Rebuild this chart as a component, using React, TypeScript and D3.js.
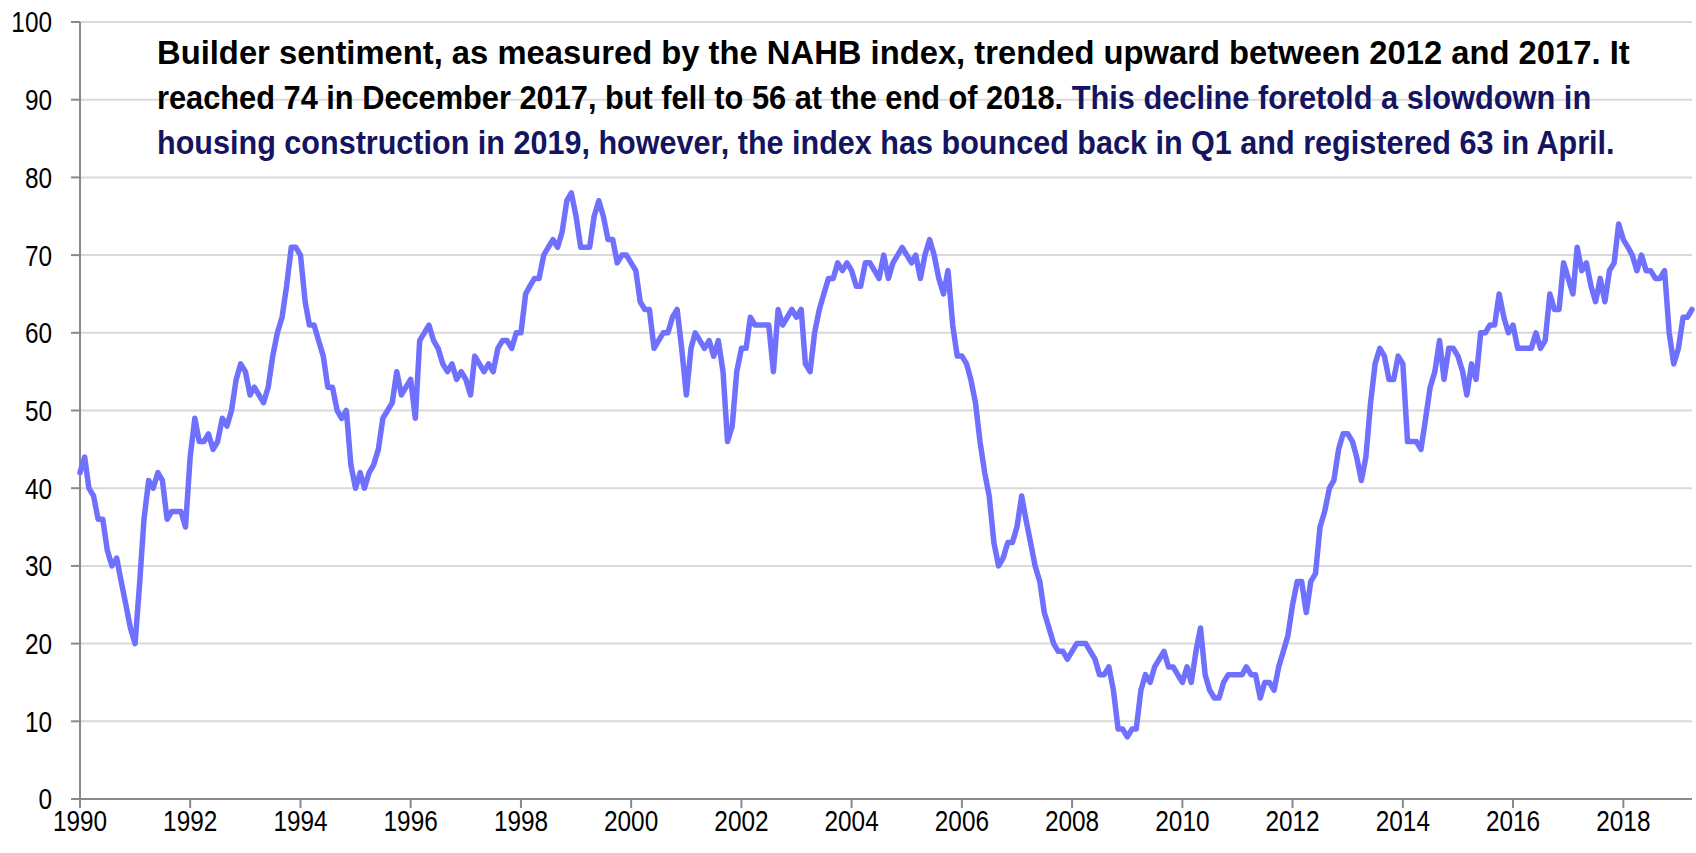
import React, { useRef, useEffect } from 'react';
import * as d3 from 'd3';

// NAHB/Wells Fargo housing market index, monthly values
const hmi1990s = [
  42, 44, 40, 39, 36, 36, 32, 30, 31, 28, 25, 22,
  20, 28, 36, 41, 40, 42, 41, 36, 37, 37, 37, 35,
  44, 49, 46, 46, 47, 45, 46, 49, 48, 50, 54, 56,
  55, 52, 53, 52, 51, 53, 57, 60, 62, 66, 71, 71,
  70, 64, 61, 61, 59, 57, 53, 53, 50, 49, 50, 43,
  40, 42, 40, 42, 43, 45, 49, 50, 51, 55, 52, 53,
  54, 49, 59, 60, 61, 59, 58, 56, 55, 56, 54, 55,
  54, 52, 57, 56, 55, 56, 55, 58, 59, 59, 58, 60,
  60, 65, 66, 67, 67, 70, 71, 72, 71, 73, 77, 78,
  75, 71, 71, 71, 75, 77, 75, 72, 72, 69, 70, 70,
];
const hmi2000s = [
  69, 68, 64, 63, 63, 58, 59, 60, 60, 62, 63, 58,
  52, 58, 60, 59, 58, 59, 57, 59, 55, 46, 48, 55,
  58, 58, 62, 61, 61, 61, 61, 55, 63, 61, 62, 63,
  62, 63, 56, 55, 60, 63, 65, 67, 67, 69, 68, 69,
  68, 66, 66, 69, 69, 68, 67, 70, 67, 69, 70, 71,
  70, 69, 70, 67, 70, 72, 70, 67, 65, 68, 61, 57,
  57, 56, 54, 51, 46, 42, 39, 33, 30, 31, 33, 33,
  35, 39, 36, 33, 30, 28, 24, 22, 20, 19, 19, 18,
  19, 20, 20, 20, 19, 18, 16, 16, 17, 14, 9, 9,
  8, 9, 9, 14, 16, 15, 17, 18, 19, 17, 17, 16,
];
const hmi2010s = [
  15, 17, 15, 19, 22, 16, 14, 13, 13, 15, 16, 16,
  16, 16, 17, 16, 16, 13, 15, 15, 14, 17, 19, 21,
  25, 28, 28, 24, 28, 29, 35, 37, 40, 41, 45, 47,
  47, 46, 44, 41, 44, 51, 56, 58, 57, 54, 54, 57,
  56, 46, 46, 46, 45, 49, 53, 55, 59, 54, 58, 58,
  57, 55, 52, 56, 54, 60, 60, 61, 61, 65, 62, 60,
  61, 58, 58, 58, 58, 60, 58, 59, 65, 63, 63, 69,
  67, 65, 71, 68, 69, 66, 64, 67, 64, 68, 69, 74,
  72, 71, 70, 68, 70, 68, 68, 67, 67, 68, 60, 56,
  58, 62, 62, 63,
];

const yTicks = [0, 10, 20, 30, 40, 50, 60, 70, 80, 90, 100];
const xTickYears = [1990, 1992, 1994, 1996, 1998, 2000, 2002, 2004, 2006, 2008, 2010, 2012, 2014, 2016, 2018];

const titleLine1 = 'Builder sentiment, as measured by the NAHB index, trended upward between 2012 and 2017. It';
const titleLine2a = 'reached 74 in December 2017, but fell to 56 at the end of 2018. ';
const titleLine2b = 'This decline foretold a slowdown in';
const titleLine3 = 'housing construction in 2019, however, the index has bounced back in Q1 and registered 63 in April.';

interface Point { date: Date; value: number; }

const WIDTH = 1696;
const HEIGHT = 853;

const App: React.FC = () => {
  const svgRef = useRef<SVGSVGElement>(null);

  useEffect(() => {
    document.body.style.margin = '0';
    if (!svgRef.current) return;
    const svg = d3.select(svgRef.current);
    svg.selectAll('*').remove();

    const values = [...hmi1990s, ...hmi2000s, ...hmi2010s];
    const data: Point[] = values.map((v, i) => ({ date: new Date(1990, i, 1), value: v }));

    const left = 80, right = 1692, top = 22, bottom = 799;
    const x = d3.scaleTime()
      .domain([new Date(1990, 0, 1), new Date(2019, 3, 1)])
      .range([left, right]);
    const y = d3.scaleLinear().domain([0, 100]).range([bottom, top]);

    const axisColor = '#8a8a8a';
    const labelFont = '"Liberation Sans", Arial, sans-serif';
    // tick labels in the reference are condensed, so squeeze them horizontally
    const squeeze = 0.84;

    // gridlines
    svg.append('g')
      .selectAll('line')
      .data(yTicks.filter(t => t > 0))
      .enter()
      .append('line')
      .attr('x1', left)
      .attr('x2', right)
      .attr('y1', d => y(d))
      .attr('y2', d => y(d))
      .attr('stroke', '#d9d9d9')
      .attr('stroke-width', 2);

    // y axis
    svg.append('line')
      .attr('x1', left).attr('x2', left)
      .attr('y1', top).attr('y2', bottom)
      .attr('stroke', axisColor).attr('stroke-width', 2);
    svg.append('g')
      .selectAll('line')
      .data(yTicks)
      .enter()
      .append('line')
      .attr('x1', left - 9).attr('x2', left)
      .attr('y1', d => y(d)).attr('y2', d => y(d))
      .attr('stroke', axisColor).attr('stroke-width', 2);
    svg.append('g')
      .selectAll('text')
      .data(yTicks)
      .enter()
      .append('text')
      .attr('transform', d => `translate(52, ${y(d)}) scale(${squeeze}, 1)`)
      .attr('dy', '0.36em')
      .attr('text-anchor', 'end')
      .style('font-family', labelFont)
      .style('font-size', '29px')
      .style('fill', '#000')
      .text(d => d);

    // x axis
    svg.append('line')
      .attr('x1', left - 9).attr('x2', right)
      .attr('y1', bottom).attr('y2', bottom)
      .attr('stroke', axisColor).attr('stroke-width', 2);
    svg.append('g')
      .selectAll('line')
      .data(xTickYears)
      .enter()
      .append('line')
      .attr('x1', d => x(new Date(d, 0, 1)))
      .attr('x2', d => x(new Date(d, 0, 1)))
      .attr('y1', bottom).attr('y2', bottom + 9)
      .attr('stroke', axisColor).attr('stroke-width', 2);
    svg.append('g')
      .selectAll('text')
      .data(xTickYears)
      .enter()
      .append('text')
      .attr('transform', d => `translate(${x(new Date(d, 0, 1))}, 831) scale(${squeeze}, 1)`)
      .attr('text-anchor', 'middle')
      .style('font-family', labelFont)
      .style('font-size', '29px')
      .style('fill', '#000')
      .text(d => d);

    // index line
    const line = d3.line<Point>()
      .x(d => x(d.date))
      .y(d => y(d.value));
    svg.append('path')
      .datum(data)
      .attr('d', line)
      .attr('fill', 'none')
      .attr('stroke', '#7070ff')
      .attr('stroke-width', 5.5)
      .attr('stroke-linejoin', 'round')
      .attr('stroke-linecap', 'round');

    // commentary, each line squeezed to the width it has in the reference
    const titleFont = '"Liberation Sans", Arial, sans-serif';
    const navy = '#141460';
    const lines = [
      { y: 64, len: 1473, parts: [{ t: titleLine1, c: '#000' }] },
      { y: 109, len: 1435, parts: [{ t: titleLine2a, c: '#000' }, { t: titleLine2b, c: navy }] },
      { y: 154, len: 1458, parts: [{ t: titleLine3, c: navy }] },
    ];
    lines.forEach(l => {
      const txt = svg.append('text')
        .style('font-family', titleFont)
        .style('font-size', '33px')
        .style('font-weight', 'bold')
        .style('white-space', 'pre');
      l.parts.forEach(p => {
        txt.append('tspan').style('fill', p.c).text(p.t);
      });
      const natural = (txt.node() as SVGTextElement).getComputedTextLength() || l.len;
      txt.attr('transform', `translate(157, ${l.y}) scale(${l.len / natural}, 1)`);
    });
  }, []);

  return (
    <svg ref={svgRef} width={WIDTH} height={HEIGHT} style={{ display: 'block', background: '#fff' }} />
  );
};

export default App;
